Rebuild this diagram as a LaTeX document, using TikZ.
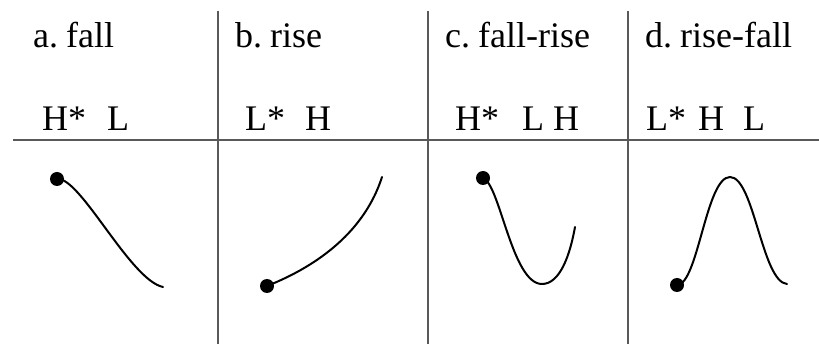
\documentclass[tikz,border=0pt]{standalone}
\usepackage{fontspec}
\setmainfont{Liberation Serif}
\begin{document}
\begin{tikzpicture}[
  x=1pt, y=-1pt,
  rule/.style={line width=1.6pt, draw=black!65},
  title/.style={anchor=base west, inner sep=0pt, font=\fontsize{36}{40}\selectfont},
  tones/.style={anchor=base west, inner sep=0pt, font=\fontsize{36}{40}\selectfont},
  contour/.style={line width=2pt, line cap=round},
  peak/.style={circle, fill=black, inner sep=0pt, minimum size=14pt}
]
  \useasboundingbox (0,0) rectangle (819,344);

  % table lines
  \coordinate (hl) at (13,140);
  \coordinate (hr) at (819,140);
  \draw[rule] (hl) -- (hr);
  \foreach \name/\x in {ab/218, bc/428, cd/628} {
    \coordinate (\name top) at (\x,11);
    \coordinate (\name bot) at (\x,344);
    \draw[rule] (\name top) -- (\name bot);
  }

  % headings
  \node[title] (ta) at (33,48)  {a.\hspace{8pt}fall};
  \node[title] (tb) at (235,48) {b.\hspace{8pt}rise};
  \node[title] (tc) at (445,48) {c.\hspace{8pt}fall-rise};
  \node[title] (td) at (645,48) {d.\hspace{8pt}rise-fall};

  % tone labels
  \node[tones] (la) at (42,131)  {H*\hspace{21pt}L};
  \node[tones] (lb) at (245,131) {L*\hspace{20pt}H};
  \node[tones] (lc) at (455,131) {H*\hspace{23pt}L\hspace{9pt}H};
  \node[tones] (ld) at (646,131) {L*\hspace{12pt}H\hspace{19pt}L};

  % pitch contours
  \node[peak] (da) at (57,179) {};
  \coordinate (ea) at (163,287);
  \draw[contour] (da.center) .. controls (80,176) and (130,280) .. (ea);

  \node[peak] (db) at (267,286) {};
  \coordinate (eb) at (382,177);
  \draw[contour] (db.center) .. controls (320,265) and (365,230) .. (eb);

  \node[peak] (dc) at (483,178) {};
  \coordinate (mc) at (542,284);
  \coordinate (ec) at (575,227);
  \draw[contour] (dc.center) .. controls (500,184) and (512,284) .. (mc)
    .. controls (560,284) and (570,255) .. (ec);

  \node[peak] (dd) at (677,285) {};
  \coordinate (md) at (730,177);
  \coordinate (ed) at (787,284);
  \draw[contour] (dd.center) .. controls (698,285) and (706,177) .. (md)
    .. controls (754,177) and (762,282) .. (ed);
\end{tikzpicture}
\end{document}
